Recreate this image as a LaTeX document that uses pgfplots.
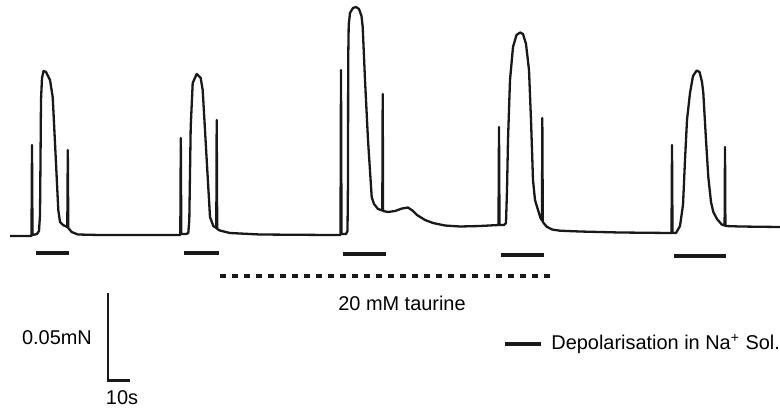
\documentclass[border=0pt]{standalone}
\usepackage{fontspec}
\setmainfont{Liberation Sans}
\usepackage{pgfplots}
\pgfplotsset{compat=1.18}

% trace digitised in picture pixels (y measured from the top)
\begin{document}
\begin{tikzpicture}
\begin{axis}[
    hide axis,
    scale only axis,
    width=390bp, height=205.5bp,
    xmin=0, xmax=780, ymin=0, ymax=411,
    y dir=reverse,
    clip=false,
    every node/.style={font=\fontsize{8.8}{10}\selectfont, text=black!85},
]
% force trace
\addplot[black!90, line width=1.15bp, line join=round] coordinates {
    (10,236) (31.5,236) (32,145) (32.5,235) (37,234) (39,231) (40,215) (40.5,160) (41,100)
    (42,78) (43.5,71) (46,72) (50,80) (52.7,97) (55,143) (58.3,210) (60,222) (63,225)
    (67.3,227) (67.8,150) (68.3,228) (71.7,232) (78,234.5) (100,235) (150,235)
    (180.3,235) (180.8,138) (181.3,234) (186,234) (188.3,233) (189.3,220) (190.7,127)
    (192.7,83) (196.7,74) (200.7,78) (202.7,90) (206.7,160) (210,217) (213.3,226)
    (216.3,228) (216.7,120) (217.2,229) (220,230.5) (230,233) (260,234.5) (330,235)
    (340.5,235) (341,70) (341.5,234) (346,234) (347.5,231) (348,180) (348.2,60) (348.7,25)
    (350,13) (353,8) (356,7) (359,9) (361.5,16) (362.7,27) (365,80) (368,140) (371.7,197)
    (374,204) (378,209) (382.3,210.5) (382.7,94) (383.1,211) (388,212) (395,211)
    (402,208.5) (408,207.5) (413,211) (417,215) (425,220) (433,223) (445,225.5)
    (460,226.5) (480,226) (498.5,225) (499,127) (499.5,225) (504,225) (506,223)
    (507,190) (508,140) (510,80) (513,47) (516.5,35) (520,32.5) (523,34) (526,44)
    (529,70) (531,120) (533,180) (535,200) (538,210) (540.5,218) (542,220.5) (542.3,118)
    (542.8,222) (546.7,226.7) (552,229.5) (560,230.7) (580,231.5) (620,232.5)
    (671.5,233) (672,145) (672.5,233) (676,233) (680,226) (683,205) (685,160) (687,120)
    (690,93) (693,76) (696.7,70.5) (699.5,72) (702,82) (703.3,93) (706,140) (708.3,177)
    (711,202) (713.3,212) (717,219) (721.7,224.5) (724.6,225.5) (725,147) (725.4,226)
    (740,226.5) (780,227)
};
% depolarisation bars
\addplot[black!90, line width=1.8bp] coordinates {(36,253) (69,253)};
\addplot[black!90, line width=1.8bp] coordinates {(184,253) (219,253)};
\addplot[black!90, line width=1.8bp] coordinates {(343,254) (386,254)};
\addplot[black!90, line width=1.8bp] coordinates {(501,255) (544,255)};
\addplot[black!90, line width=1.8bp] coordinates {(674,256) (726,256)};
% taurine period
\addplot[black!90, line width=2bp, dash pattern=on 3bp off 3bp] coordinates {(220,276) (551,276)};
\node at (axis cs:402,303) {20 mM taurine};
% scale bar
\addplot[black!90, line width=1.1bp] coordinates {(108,293) (108,380.5) (130,380.5)};
\node at (axis cs:57,338) {0.05mN};
\node at (axis cs:122,398) {10s};
% legend
\addplot[black!90, line width=1.8bp] coordinates {(505,344) (541,344)};
\node[anchor=west, inner sep=0pt] at (axis cs:551,344) {Depolarisation in Na\textsuperscript{+} Sol.};
\end{axis}
\pgfresetboundingbox
\path[use as bounding box] (current axis.south west) rectangle (current axis.north east);
\end{tikzpicture}
\end{document}
